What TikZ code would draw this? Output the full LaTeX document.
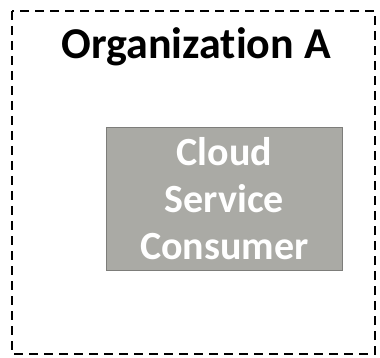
\documentclass[tikz,border=0pt]{standalone}
\usepackage{fontspec}
\setmainfont[Ligatures=CommonOff]{Carlito}
\usepackage{tikz}
\usetikzlibrary{positioning}
\definecolor{boxfill}{RGB}{170,170,165}
\definecolor{boxline}{RGB}{125,125,122}

\begin{document}
\begin{tikzpicture}[x=1pt,y=1pt,thick,org box/.style={draw,line width=2.2pt,dash pattern=on 9pt off 6pt},consumer node/.style={rectangle,draw=boxline,fill=boxfill,line width=1.6pt,text=white,font=\bfseries\fontsize{40}{47}\selectfont,align=center,minimum width=236pt,minimum height=143pt}]

			\useasboundingbox (0,0) rectangle (380,-358);
			\draw[org box] (12,-11) rectangle (375,-354);
			\node[font=\bfseries\fontsize{44}{50}\selectfont] (title) at (196,-47) {Organization A};
			\node[consumer node] (consumer) at (224.5,-199) {Cloud\\Service\\Consumer};
		\end{tikzpicture}
\end{document}
